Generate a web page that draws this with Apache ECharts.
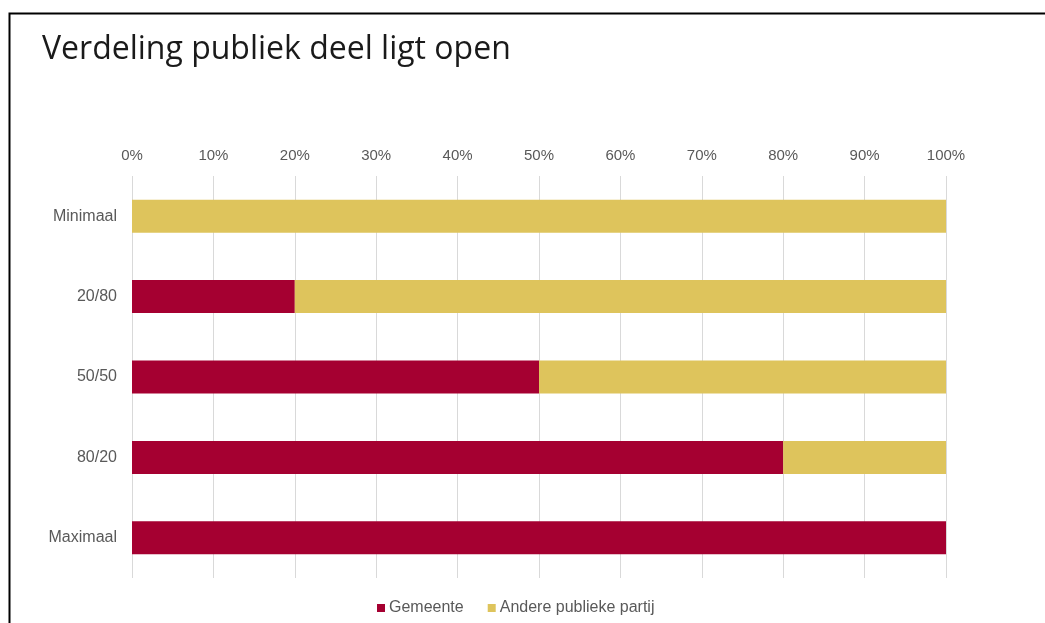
<!DOCTYPE html>
<html>
<head>
<meta charset="utf-8">
<script src="https://cdn.jsdelivr.net/npm/echarts@6/dist/echarts.min.js"></script>
<style>
html,body{margin:0;padding:0;background:#fff;}
#c{width:1045px;height:623px;}
</style>
</head>
<body>
<div id="c"></div>
<script>
const categories = ['Minimaal', '20/80', '50/50', '80/20', 'Maximaal'];
const gemeente = [0, 20, 50, 80, 100];
const andere = [100, 80, 50, 20, 0];
const seriesNames = ['Gemeente', 'Andere publieke partij'];

const chart = echarts.init(document.getElementById('c'), null, {renderer: 'canvas'});
chart.setOption({
  animation: false,
  backgroundColor: '#fff',
  title: {
    text: 'Verdeling publiek deel ligt open',
    left: 37, top: 29,
    textStyle: {fontFamily: 'Open Sans', fontWeight: 400, fontSize: 32, color: '#1a1a1a'}
  },
  graphic: [{
    type: 'rect', left: 7, top: 11, silent: true,
    shape: {width: 1100, height: 700},
    style: {fill: 'none', stroke: '#000', lineWidth: 2}
  }],
  legend: {
    bottom: 2, left: 372,
    itemWidth: 8, itemHeight: 8, itemGap: 24,
    icon: 'rect',
    textStyle: {fontFamily: 'Liberation Sans', fontSize: 16, color: '#595959', padding: [0,0,0,-1]},
    data: seriesNames
  },
  grid: {left: 132, right: 99, top: 176, bottom: 45},
  xAxis: {
    type: 'value', position: 'top', min: 0, max: 100, interval: 10,
    axisLine: {show: false}, axisTick: {show: false},
    axisLabel: {formatter: '{value}%', color: '#595959', fontFamily: 'Liberation Sans', fontSize: 15, margin: 13},
    splitLine: {lineStyle: {color: '#d9d9d9', width: 1}}
  },
  yAxis: {
    type: 'category', inverse: true, data: categories,
    axisLine: {show: false}, axisTick: {show: false},
    axisLabel: {color: '#595959', fontFamily: 'Liberation Sans', fontSize: 16, margin: 15}
  },
  series: [
    {name: seriesNames[0], type: 'bar', stack: 's', data: gemeente, barWidth: 33, itemStyle: {color: '#A50031'}},
    {name: seriesNames[1], type: 'bar', stack: 's', data: andere, barWidth: 33, itemStyle: {color: '#DEC45C'}}
  ]
});
</script>
</body>
</html>
